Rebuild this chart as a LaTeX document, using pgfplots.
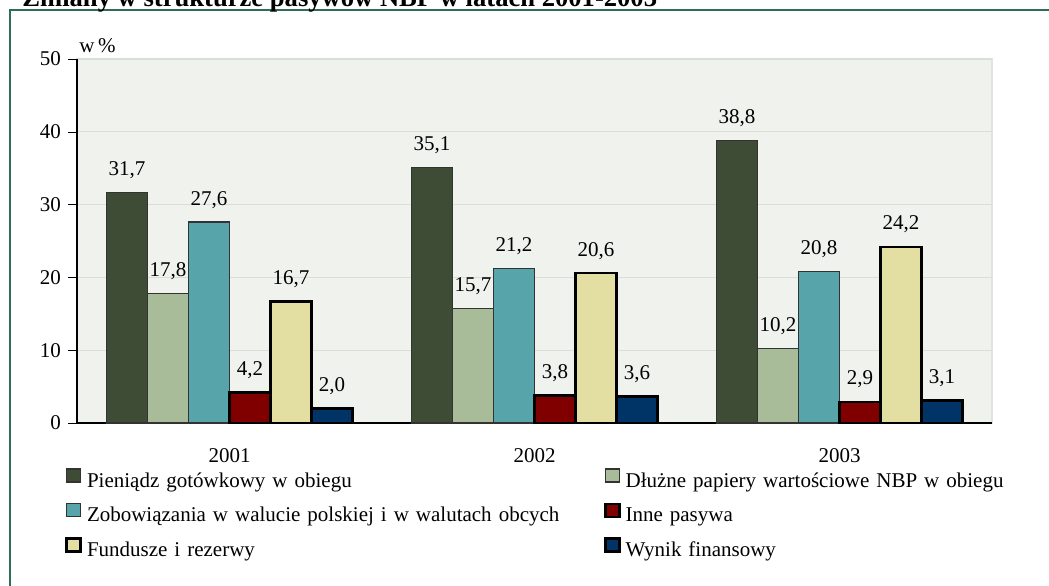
\documentclass[border=0pt]{standalone}
\usepackage{fontspec}
\setmainfont{Liberation Serif}
\usepackage{pgfplots}
\pgfplotsset{compat=1.18}

\definecolor{cash}{HTML}{3E4C35}
\definecolor{debt}{HTML}{A8BC9A}
\definecolor{liab}{HTML}{57A5AA}
\definecolor{other}{HTML}{800000}
\definecolor{funds}{HTML}{E3DFA3}
\definecolor{result}{HTML}{003366}
\definecolor{plotbg}{HTML}{F0F2EE}
\definecolor{plotedge}{HTML}{E0E5DC}
\definecolor{gridc}{HTML}{D8DFD4}
\definecolor{frame}{HTML}{2E6E55}
\definecolor{thinedge}{HTML}{333333}

\begin{document}
\begin{tikzpicture}[font=\fontsize{10.5}{12.6}\selectfont]
\path[use as bounding box, clip] (0,0) rectangle (524.5pt,292.5pt);
\draw[frame, line width=1pt] (5pt,-10pt) -- (5pt,287.5pt) -- (540pt,287.5pt);
\node[anchor=base west, inner sep=0pt, font=\fontsize{13.3}{16}\selectfont\bfseries]
  at (11pt,289pt) {Zmiany w strukturze pasywów NBP w latach 2001-2003};

\begin{axis}[
    at={(38.5pt,81pt)}, anchor=south west,
    scale only axis, width=457.5pt, height=182pt,
    clip=false,
    ybar, bar width=0.1344,
    xmin=-0.5, xmax=2.5,
    ymin=0, ymax=50,
    ytick={0,10,...,50},
    xtick={0,1,2},
    xticklabels={2001,2002,2003},
    major tick length=4.5pt,
    x tick style={draw=none},
    extra x ticks={-0.5,0.5,1.5,2.5},
    extra x tick labels={},
    extra x tick style={major tick length=3.5pt, tick style={draw=black}, grid=none},
    xticklabel style={yshift=-4.5pt},
    y tick style={draw=black},
    tick align=outside,
    axis lines*=left,
    axis line style={black, line width=0.6pt},
    ymajorgrids, grid style={gridc, line width=0.6pt},
    axis background/.style={fill=plotbg, draw=plotedge, line width=1pt},
    /pgf/number format/assume math mode=true,
    /pgf/number format/.cd, fixed, fixed zerofill, precision=1, use comma,
    /pgfplots/.cd,
    yticklabel style={/pgf/number format/precision=0, /pgf/number format/fixed zerofill=false},
    nodes near coords,
    every node near coord/.append style={anchor=base, yshift=8.5pt, inner sep=0pt, black},
    legend columns=2,
    legend style={at={(-0.0131,-0.1237)}, anchor=north west, draw=none, fill=none,
      inner sep=0pt, column sep=0pt, row sep=4.75pt,
      nodes={inner xsep=2.5pt, inner ysep=0pt, text height=8pt, text depth=3pt,
        text width=256pt, align=left}},
    legend image code/.code={\draw[#1] (0pt,0pt) rectangle (7pt,6.5pt);},
]
\addplot[fill=cash, draw=thinedge, line width=0.6pt, bar shift=-0.336]
  coordinates {(0,31.7) (1,35.1) (2,38.8)};
\addplot[fill=debt, draw=thinedge, line width=0.6pt, bar shift=-0.2016]
  coordinates {(0,17.8) (1,15.7) (2,10.2)};
\addplot[fill=liab, draw=thinedge, line width=0.6pt, bar shift=-0.0672]
  coordinates {(0,27.6) (1,21.2) (2,20.8)};
\addplot[fill=other, draw=black, line width=1.3pt, bar shift=0.0672]
  coordinates {(0,4.2) (1,3.8) (2,2.9)};
\addplot[fill=funds, draw=black, line width=1.3pt, bar shift=0.2016]
  coordinates {(0,16.7) (1,20.6) (2,24.2)};
\addplot[fill=result, draw=black, line width=1.3pt, bar shift=0.336]
  coordinates {(0,2.0) (1,3.6) (2,3.1)};
\legend{Pieniądz gotówkowy w obiegu, Dłużne papiery wartościowe NBP w obiegu,
  Zobowiązania w walucie polskiej i w walutach obcych, Inne pasywa,
  Fundusze i rezerwy, Wynik finansowy}
\node[anchor=base west, inner sep=0pt] at (rel axis cs:0,1) [xshift=1pt, yshift=3.5pt] {w\,\%};
\end{axis}
\end{tikzpicture}
\end{document}
